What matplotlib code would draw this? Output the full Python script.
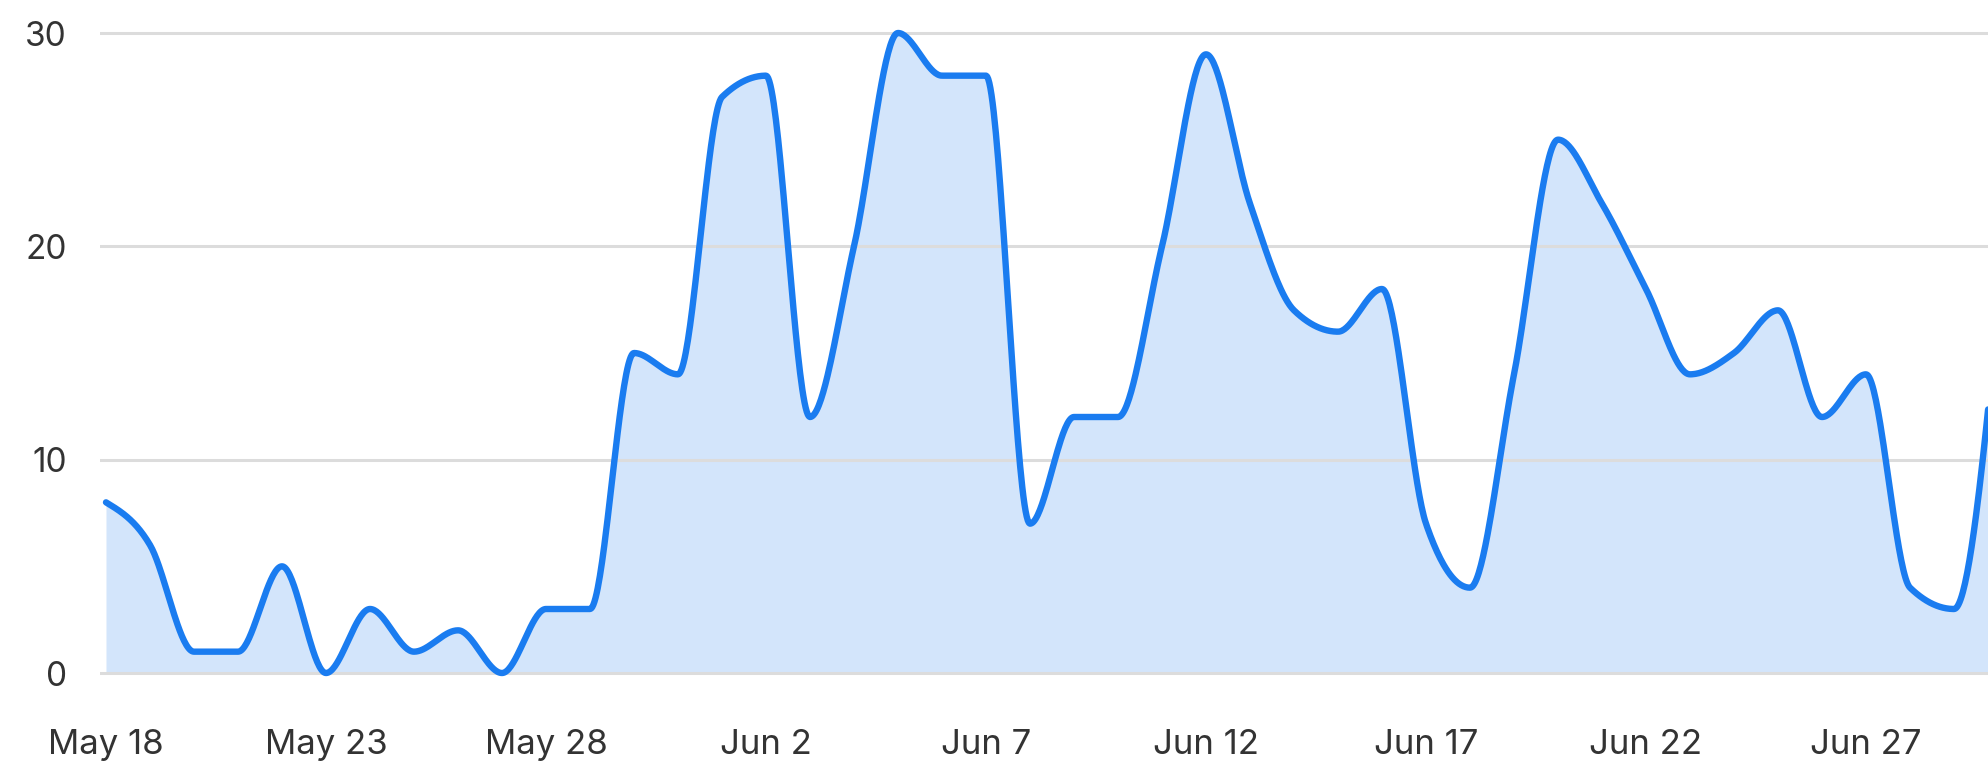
import numpy as np
import matplotlib
matplotlib.use("Agg")
import matplotlib.pyplot as plt
import matplotlib.dates as mdates
from matplotlib.ticker import FuncFormatter, FixedLocator
import datetime as dt

# ---- data ----
start_date = dt.date(2024, 5, 18)
n_days = 44
values = [8, 6, 1, 1, 5, 0, 3, 1, 2, 0, 3, 3, 15, 14, 27, 28, 12, 20, 30, 28,
          28, 7, 12, 12, 20, 29, 22, 17, 16, 18, 7, 4, 14, 25, 22, 18, 14, 15,
          17, 12, 14, 4, 3, 17]
y_ticks = [0, 10, 20, 30]
x_tick_every = 5

dates = [start_date + dt.timedelta(days=i) for i in range(n_days)]
x = mdates.date2num(dates)
y = np.array(values, dtype=float)


def monotone_x(xs, ys, per_seg=40):
    """d3 curveMonotoneX (Steffen) evaluated as cubic Hermite."""
    xs = np.asarray(xs, float)
    ys = np.asarray(ys, float)
    n = len(xs)
    h = np.diff(xs)
    s = np.diff(ys) / h
    t = np.zeros(n)
    for i in range(1, n - 1):
        s0, s1 = s[i - 1], s[i]
        p = (s0 * h[i] + s1 * h[i - 1]) / (h[i - 1] + h[i])
        t[i] = (np.sign(s0) + np.sign(s1)) * min(abs(s0), abs(s1), 0.5 * abs(p))
    t[0] = (3 * s[0] - t[1]) / 2
    t[-1] = (3 * s[-1] - t[-2]) / 2
    X, Y = [], []
    for i in range(n - 1):
        u = np.linspace(0, 1, per_seg, endpoint=False)
        h00 = 2 * u**3 - 3 * u**2 + 1
        h10 = u**3 - 2 * u**2 + u
        h01 = -2 * u**3 + 3 * u**2
        h11 = u**3 - u**2
        X.append(xs[i] + u * h[i])
        Y.append(h00 * ys[i] + h10 * h[i] * t[i] + h01 * ys[i + 1] + h11 * h[i] * t[i + 1])
    X.append([xs[-1]])
    Y.append([ys[-1]])
    return np.concatenate(X), np.concatenate(Y)


xs, ys = monotone_x(x, y)

plt.rcParams['font.family'] = ['Inter', 'DejaVu Sans']

W, H = 1988, 767
fig = plt.figure(figsize=(W / 100, H / 100), dpi=100)
ppu = (673 - 33) / 30.0
ylo, yhi = -1.0, 31.5
ax_bottom_px = 673 + (-ylo) * ppu
ax_top_px = 33 - (yhi - 30) * ppu
ax_left_px = 100
left = ax_left_px / W
bottom = (H - ax_bottom_px) / H
height = (ax_bottom_px - ax_top_px) / H
ax = fig.add_axes([left, bottom, 1 - left, height])

day_px = 44.0
x0 = x[0] - (106 - ax_left_px) / day_px
x1 = x[0] + (W - 106) / day_px
ax.set_xlim(x0, x1)
ax.set_ylim(ylo, yhi)

ax.fill_between(xs, 0, ys, color="#d3e5fb", linewidth=0, zorder=1)
ax.plot(xs, ys, color="#1a7cf0", linewidth=4.6, solid_capstyle="round",
        solid_joinstyle="round", zorder=3)

for v in y_ticks:
    ax.axhline(v, color="#dcdcdc", linewidth=2.2, zorder=2)

ax.yaxis.set_major_locator(FixedLocator(y_ticks))
ax.xaxis.set_major_locator(FixedLocator(x[::x_tick_every]))
ax.xaxis.set_major_formatter(FuncFormatter(
    lambda v, p: "{} {}".format(mdates.num2date(v).strftime("%b"), mdates.num2date(v).day)))

ax.tick_params(axis="both", length=0, labelcolor="#333333")
ax.tick_params(axis="y", pad=24, labelsize=24)
ax.tick_params(axis="x", pad=25, labelsize=25)
for sp in ax.spines.values():
    sp.set_visible(False)
ax.set_facecolor("white")
fig.patch.set_facecolor("white")

fig.savefig("out.png", dpi=100)
